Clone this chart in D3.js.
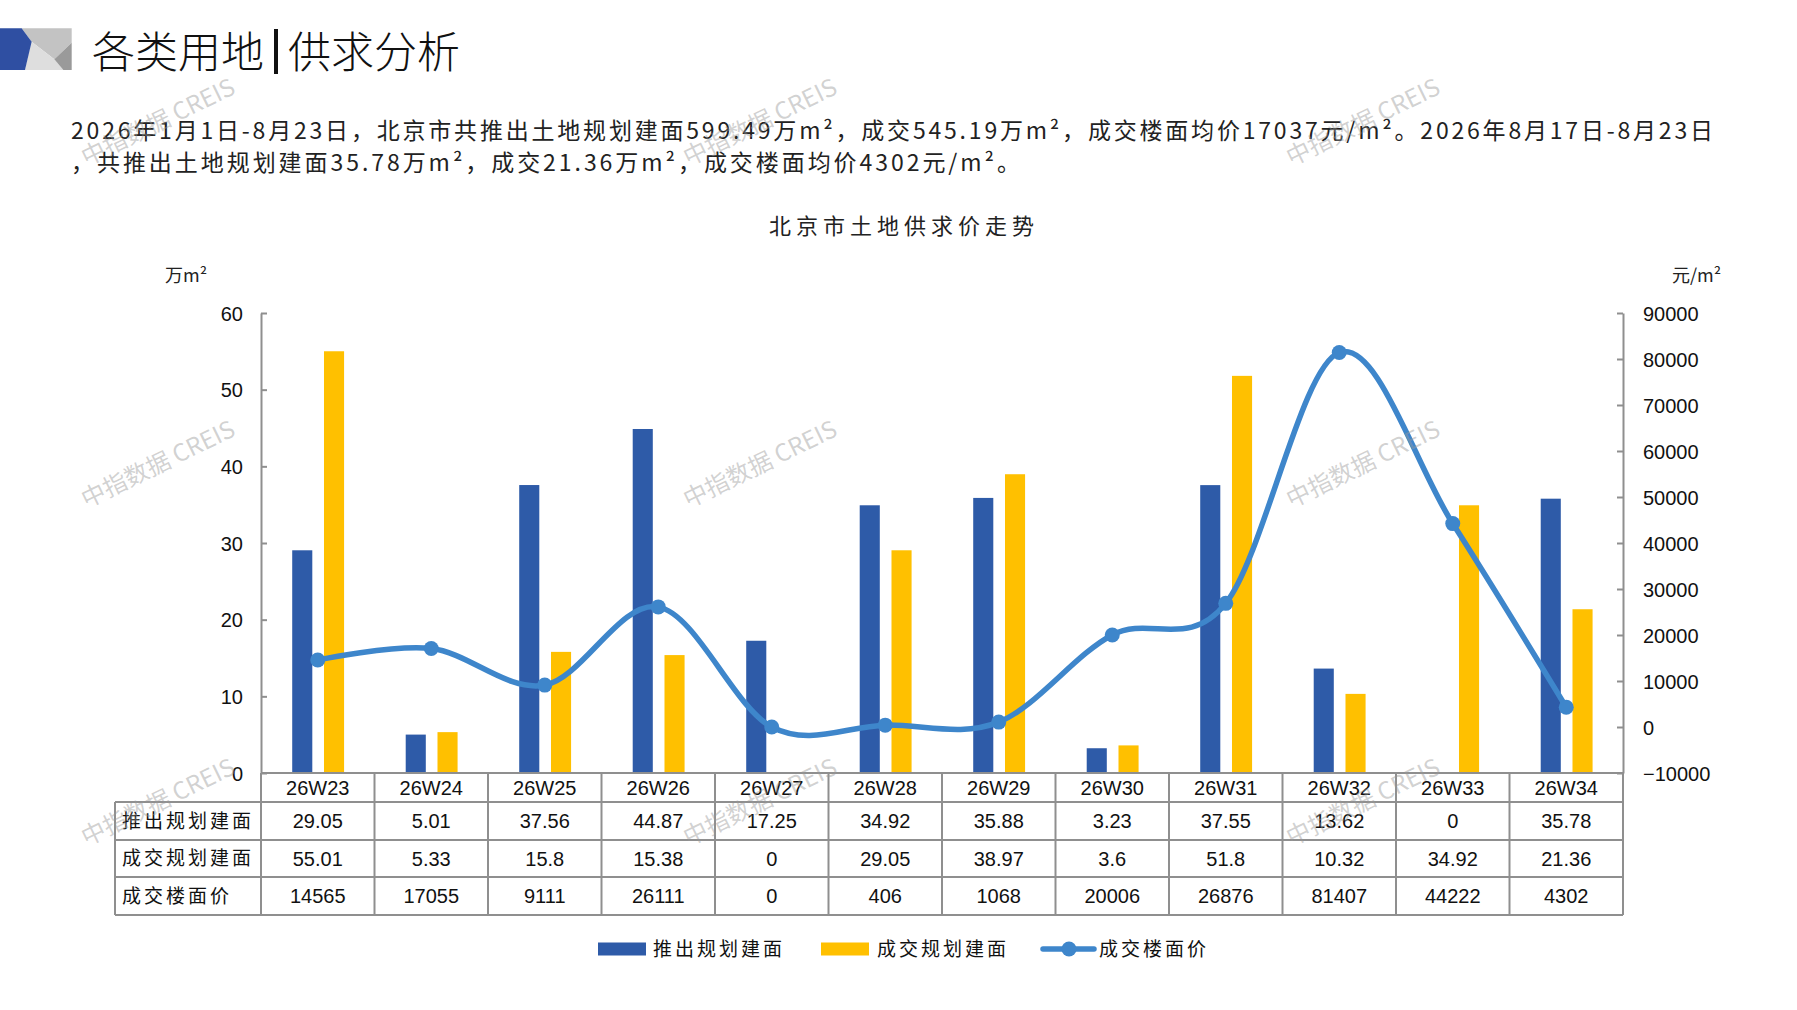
<!DOCTYPE html>
<html>
<head>
<meta charset="utf-8">
<script src="https://cdn.jsdelivr.net/npm/d3@7"></script>
<style>
  html, body { margin: 0; padding: 0; background: #fff; }
  svg { display: block; }
  .cjk { font-family: "Noto Sans CJK SC", "Noto Sans", sans-serif; }
  .num { font-family: "Liberation Sans", Arial, sans-serif; }
</style>
</head>
<body>
<svg id="chart" width="1797" height="1010"></svg>
<script>
// ---------------- data ----------------
const categories = ["26W23","26W24","26W25","26W26","26W27","26W28","26W29","26W30","26W31","26W32","26W33","26W34"];
const supplyArea = [29.05, 5.01, 37.56, 44.87, 17.25, 34.92, 35.88, 3.23, 37.55, 13.62, 0, 35.78];
const dealArea   = [55.01, 5.33, 15.8, 15.38, 0, 29.05, 38.97, 3.6, 51.8, 10.32, 34.92, 21.36];
const dealPrice  = [14565, 17055, 9111, 26111, 0, 406, 1068, 20006, 26876, 81407, 44222, 4302];
const seriesNames = ["推出规划建面", "成交规划建面", "成交楼面价"];
const leftTicks  = [0, 10, 20, 30, 40, 50, 60];
const rightTicks = [-10000, 0, 10000, 20000, 30000, 40000, 50000, 60000, 70000, 80000, 90000];

const pageTitleA = "各类用地";
const pageTitleB = "供求分析";
const summary1 = "2026年1月1日-8月23日，北京市共推出土地规划建面599.49万m²，成交545.19万m²，成交楼面均价17037元/m²。2026年8月17日-8月23日";
const summary2 = "，共推出土地规划建面35.78万m²，成交21.36万m²，成交楼面均价4302元/m²。";
const chartTitle = "北京市土地供求价走势";
const leftUnit = "万m²";
const rightUnit = "元/m²";
const watermark = "中指数据 CREIS";

// ---------------- styles ----------------
const C_BLUE = "#2E5BA8";
const C_YELLOW = "#FFC000";
const C_LINE = "#3E86CB";
const C_GRID = "#8f8f8f";

const svg = d3.select("#chart");

// ---------------- header ----------------
const logo = svg.append("g");
const lp = (pts) => pts.map(p => [p[0]/3, p[1]/3 + 20].join(",")).join(" ");
logo.append("polygon").attr("points", lp([[65,25],[215,25],[215,68],[163,118],[95,65]])).attr("fill", "#c3c3c3");
logo.append("polygon").attr("points", lp([[95,65],[163,118],[190,150],[75,150]])).attr("fill", "#dedede");
logo.append("polygon").attr("points", lp([[215,68],[215,150],[190,150],[163,118]])).attr("fill", "#9a9a9a");
logo.append("polygon").attr("points", lp([[0,25],[65,25],[95,65],[75,150],[0,150]])).attr("fill", "#2F4FA2");

const tA = svg.append("text").attr("class","cjk").attr("x", 92).attr("y", 68)
  .attr("font-size", 43).attr("font-weight", 300).attr("fill", "#111").text(pageTitleA);
const wA = tA.node().getComputedTextLength();
svg.append("rect").attr("x", 92 + wA + 10).attr("y", 29).attr("width", 4).attr("height", 45).attr("fill", "#111");
svg.append("text").attr("class","cjk").attr("x", 92 + wA + 24).attr("y", 68)
  .attr("font-size", 43).attr("font-weight", 300).attr("fill", "#111").text(pageTitleB);

svg.append("text").attr("class","cjk").attr("x", 71).attr("y", 139)
  .attr("font-size", 23).attr("fill", "#222")
  .attr("textLength", 1642).attr("lengthAdjust", "spacing").text(summary1);
svg.append("text").attr("class","cjk").attr("x", 71).attr("y", 171)
  .attr("font-size", 23).attr("fill", "#222")
  .attr("textLength", 949).attr("lengthAdjust", "spacing").text(summary2);

svg.append("text").attr("class","cjk").attr("x", 904).attr("y", 234)
  .attr("text-anchor", "middle").attr("font-size", 22).attr("letter-spacing", 5)
  .attr("fill", "#222").text(chartTitle);

svg.append("text").attr("class","cjk").attr("x", 165).attr("y", 282)
  .attr("font-size", 18).attr("fill", "#222").text(leftUnit);
svg.append("text").attr("class","cjk").attr("x", 1672).attr("y", 282)
  .attr("font-size", 18).attr("fill", "#222").text(rightUnit);

// ---------------- scales ----------------
const plotL = 261, plotR = 1623, plotT = 313, plotB = 773;
const x = d3.scaleBand().domain(categories).range([plotL, plotR]).padding(0);
const bw = x.bandwidth();
const yL = d3.scaleLinear().domain([0, 60]).range([plotB, plotT]);
const yR = d3.scaleLinear().domain([-10000, 90000]).range([plotB, plotT]);
const barW = bw * 0.177;

// ---------------- bars ----------------
svg.append("g").selectAll("rect").data(categories).join("rect")
  .attr("x", (d) => x(d) + bw * 0.275)
  .attr("width", barW)
  .attr("y", (d, i) => yL(supplyArea[i]))
  .attr("height", (d, i) => yL(0) - yL(supplyArea[i]))
  .attr("fill", C_BLUE);

svg.append("g").selectAll("rect").data(categories).join("rect")
  .attr("x", (d) => x(d) + bw * 0.555)
  .attr("width", barW)
  .attr("y", (d, i) => yL(dealArea[i]))
  .attr("height", (d, i) => yL(0) - yL(dealArea[i]))
  .attr("fill", C_YELLOW);

// ---------------- axes ----------------
const axL = svg.append("g").attr("transform", `translate(${plotL},0)`)
  .call(d3.axisLeft(yL).tickValues(leftTicks).tickSizeInner(-6).tickSizeOuter(0).tickPadding(18));
const axR = svg.append("g").attr("transform", `translate(${plotR},0)`)
  .call(d3.axisRight(yR).tickValues(rightTicks).tickSizeInner(-6).tickSizeOuter(0).tickPadding(20).tickFormat(d3.format("d")));
[axL, axR].forEach(ax => {
  ax.select(".domain").attr("stroke", C_GRID).attr("stroke-width", 2);
  ax.selectAll(".tick line").attr("stroke", C_GRID).attr("stroke-width", 2);
  ax.selectAll(".tick text").attr("class", "num").attr("font-size", 20).attr("fill", "#111");
});
axL.selectAll(".tick text").attr("dy", "0.35em");
axR.selectAll(".tick text").attr("dy", "0.35em").text(d => d < 0 ? "\u2212" + Math.abs(d) : d);

// ---------------- line ----------------
const lineGen = d3.line()
  .x((d, i) => x(categories[i]) + bw / 2)
  .y((d) => yR(d))
  .curve(d3.curveCardinal.tension(0));
svg.append("path").datum(dealPrice).attr("d", lineGen)
  .attr("fill", "none").attr("stroke", C_LINE).attr("stroke-width", 5.5)
  .attr("stroke-linejoin", "round").attr("stroke-linecap", "round");
svg.append("g").selectAll("circle").data(dealPrice).join("circle")
  .attr("cx", (d, i) => x(categories[i]) + bw / 2)
  .attr("cy", (d) => yR(d))
  .attr("r", 7.5).attr("fill", C_LINE);

// ---------------- data table ----------------
const tableL = 115;
const rowY = [773, 802, 840, 877, 915];
const grid = svg.append("g").attr("stroke", C_GRID).attr("stroke-width", 2);
grid.append("line").attr("x1", plotL).attr("x2", plotR).attr("y1", rowY[0]).attr("y2", rowY[0]);
rowY.slice(1).forEach(y => grid.append("line").attr("x1", tableL).attr("x2", plotR).attr("y1", y).attr("y2", y));
grid.append("line").attr("x1", tableL).attr("x2", tableL).attr("y1", rowY[1]).attr("y2", rowY[4]);
categories.concat([null]).forEach((c, i) => {
  const xx = c ? x(c) : plotR;
  grid.append("line").attr("x1", xx).attr("x2", xx).attr("y1", rowY[0]).attr("y2", rowY[4]);
});

const tbl = svg.append("g");
tbl.selectAll("text.cat").data(categories).join("text").attr("class", "num cat")
  .attr("x", d => x(d) + bw / 2).attr("y", (rowY[0] + rowY[1]) / 2).attr("dy", "0.36em")
  .attr("text-anchor", "middle").attr("font-size", 20).attr("fill", "#111").text(d => d);

const rows = [supplyArea, dealArea, dealPrice];
rows.forEach((arr, r) => {
  const cy = (rowY[r + 1] + rowY[r + 2]) / 2;
  tbl.append("text").attr("class", "cjk").attr("x", 122).attr("y", cy).attr("dy", "0.36em")
    .attr("font-size", 19).attr("letter-spacing", 3).attr("fill", "#111").text(seriesNames[r]);
  tbl.selectAll(null).data(arr).join("text").attr("class", "num")
    .attr("x", (d, i) => x(categories[i]) + bw / 2).attr("y", cy).attr("dy", "0.36em")
    .attr("text-anchor", "middle").attr("font-size", 20).attr("fill", "#111").text(d => String(d));
});

// ---------------- legend ----------------
const lg = svg.append("g");
const ly = 949;
lg.append("rect").attr("x", 598).attr("y", ly - 6.5).attr("width", 48).attr("height", 13).attr("fill", C_BLUE);
lg.append("text").attr("class","cjk").attr("x", 653).attr("y", ly).attr("dy", "0.36em")
  .attr("font-size", 19).attr("letter-spacing", 3).attr("fill", "#111").text(seriesNames[0]);
lg.append("rect").attr("x", 821).attr("y", ly - 6.5).attr("width", 48).attr("height", 13).attr("fill", C_YELLOW);
lg.append("text").attr("class","cjk").attr("x", 877).attr("y", ly).attr("dy", "0.36em")
  .attr("font-size", 19).attr("letter-spacing", 3).attr("fill", "#111").text(seriesNames[1]);
lg.append("line").attr("x1", 1043).attr("x2", 1094).attr("y1", ly).attr("y2", ly)
  .attr("stroke", C_LINE).attr("stroke-width", 5.5).attr("stroke-linecap", "round");
lg.append("circle").attr("cx", 1069).attr("cy", ly).attr("r", 7.5).attr("fill", C_LINE);
lg.append("text").attr("class","cjk").attr("x", 1099).attr("y", ly).attr("dy", "0.36em")
  .attr("font-size", 19).attr("letter-spacing", 3).attr("fill", "#111").text(seriesNames[2]);

// ---------------- watermarks ----------------
const wmX = [158, 760, 1363], wmY = [122, 464, 802];
const wm = svg.append("g").attr("pointer-events", "none");
wmY.forEach(wy => wmX.forEach(wx => {
  wm.append("text").attr("class", "cjk")
    .attr("transform", `translate(${wx},${wy}) rotate(-26)`)
    .attr("text-anchor", "middle").attr("dy", "0.35em")
    .attr("font-size", 24).attr("fill", "#9a9a9a").attr("fill-opacity", 0.45)
    .text(watermark);
}));
</script>
</body>
</html>
